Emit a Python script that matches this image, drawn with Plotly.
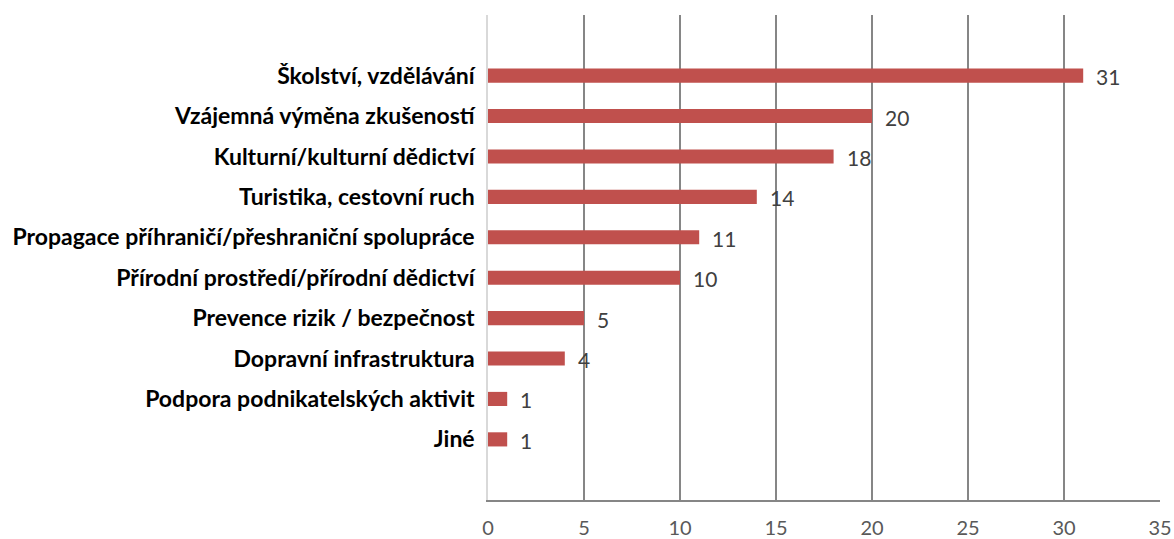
import plotly.graph_objects as go

categories = [
    "Školství, vzdělávání",
    "Vzájemná výměna zkušeností",
    "Kulturní/kulturní dědictví",
    "Turistika, cestovní ruch",
    "Propagace příhraničí/přeshraniční spolupráce",
    "Přírodní prostředí/přírodní dědictví",
    "Prevence rizik / bezpečnost",
    "Dopravní infrastruktura",
    "Podpora podnikatelských aktivit",
    "Jiné",
]
values = [31, 20, 18, 14, 11, 10, 5, 4, 1, 1]
x_ticks = [0, 5, 10, 15, 20, 25, 30, 35]

BAR = "#C0504D"
GRID = "#868686"

fig = go.Figure(
    go.Bar(
        x=values,
        y=categories,
        orientation="h",
        marker=dict(color=BAR, line=dict(width=0)),
        width=0.35,
    )
)

for cat, val in zip(categories, values):
    fig.add_annotation(
        x=val, y=cat, text=str(val), showarrow=False,
        xanchor="left", xshift=11, yshift=-1,
        font=dict(family="Lato", size=21, color="#404040"),
    )

fig.update_layout(
    width=1174, height=539,
    margin=dict(l=488, r=14, t=15, b=39),
    paper_bgcolor="white", plot_bgcolor="white",
    showlegend=False,
    xaxis=dict(
        range=[0, 35], tickvals=x_ticks, showgrid=True,
        gridcolor=GRID, gridwidth=1.5, automargin=False,
        showline=True, linecolor=GRID, linewidth=1.5,
        zeroline=False, ticks="", ticklabelstandoff=9,
        tickfont=dict(family="Lato", size=20, color="#595959"),
    ),
    yaxis=dict(
        categoryorder="array", categoryarray=categories[::-1],
        range=[-1.5, 10.5], showgrid=False, zeroline=False,
        showline=True, linecolor="#D9D9D9", linewidth=1.5,
        automargin=False, ticks="", ticklabelstandoff=7,
        tickfont=dict(family="Lato", size=23, color="#000000", weight="bold"),
    ),
)

fig.write_html("out.html")
